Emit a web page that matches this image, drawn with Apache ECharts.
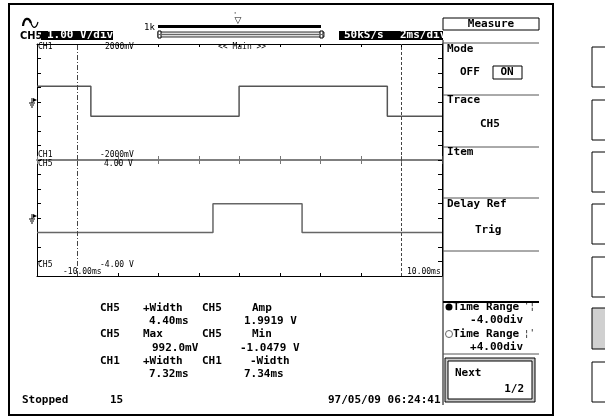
<!DOCTYPE html>
<html><head><meta charset="utf-8">
<script src="https://cdn.jsdelivr.net/npm/echarts@6/dist/echarts.min.js"></script>
<style>html,body{margin:0;padding:0;background:#fff}#c{width:605px;height:420px}</style>
</head><body><div id="c"></div>
<script>
// ---- data ----
const timeTicks = [-10, -8, -6, -4, -2, 0, 2, 4, 6, 8, 10];
const ch1Times = [-10, -7.34, -0.02, 7.30, 10];
const ch1Values = [540, -490, 540, -490, -490];      // mV
const ch5Times = [-10, -1.31, 3.09, 10];
const ch5Values = [-1.0, 0.99, -1.0, -1.0];           // V
const cursorTimes = [-8, 8];
const ch1Range = [-2000, 2000, 500];
const ch5Range = [-4, 4, 1];
const measRows = [
  ['CH5', '+Width', 'CH5', 'Amp'], ['', '4.40ms', '', '1.9919 V'],
  ['CH5', 'Max', 'CH5', 'Min'], ['', '992.0mV', '', '-1.0479 V'],
  ['CH1', '+Width', 'CH1', '-Width'], ['', '7.32ms', '', '7.34ms']
];

const chart = echarts.init(document.getElementById('c'), null, {renderer: 'canvas'});
const F = 'bold 11px "DejaVu Sans Mono", monospace';
const FS = '8px "DejaVu Sans Mono", monospace';
const pairs = (t, v) => t.map((x, i) => [x, v[i]]);

function xAx(gi, pos, color, len, w) {
  return {type: 'value', gridIndex: gi, position: pos, min: -10, max: 10, interval: 2,
    axisLine: {show: true, onZero: false, lineStyle: {color: color, width: w}},
    axisTick: {show: true, inside: true, length: len, lineStyle: {color: color, width: 1}},
    axisLabel: {show: false}, splitLine: {show: false}};
}
function yAx(gi, pos, r) {
  return {type: 'value', gridIndex: gi, position: pos, min: r[0], max: r[1], interval: r[2],
    axisLine: {show: true, onZero: false, lineStyle: {color: '#000', width: 1}},
    axisTick: {show: true, inside: true, length: 4, lineStyle: {color: '#000'}},
    axisLabel: {show: false}, splitLine: {show: false}};
}
const cursorMark = {
  silent: true, symbol: 'none', label: {show: false},
  data: [
    {xAxis: cursorTimes[0], lineStyle: {type: [5, 2, 1, 2], color: '#444', width: 1}},
    {xAxis: cursorTimes[1], lineStyle: {type: [3, 2], color: '#444', width: 1}}
  ]
};

const g = [];
function T(x, y, text, o) {
  o = o || {};
  g.push({type: 'text', silent: true, z: 10, style: {x: x, y: y, text: text, font: o.font || F,
    fill: o.fill || '#000', textAlign: o.align || 'left', textVerticalAlign: 'middle'}});
}
function L(x1, y1, x2, y2, o) {
  o = o || {};
  g.push({type: 'line', silent: true, z: o.z || 5, shape: {x1: x1, y1: y1, x2: x2, y2: y2},
    style: {stroke: o.stroke || '#000', lineWidth: o.w || 1}});
}
function R(x, y, w, h, o) {
  o = o || {};
  g.push({type: 'rect', silent: true, z: o.z || 4, shape: {x: x, y: y, width: w, height: h},
    style: {fill: o.fill || 'none', stroke: o.stroke === undefined ? '#000' : o.stroke, lineWidth: o.w || 1}});
}
function B(x1, y1, cx1, cy1, cx2, cy2, x2, y2, w) {
  g.push({type: 'bezierCurve', silent: true, z: 10,
    shape: {x1: x1, y1: y1, cpx1: cx1, cpy1: cy1, cpx2: cx2, cpy2: cy2, x2: x2, y2: y2},
    style: {stroke: '#000', lineWidth: w, fill: 'none'}});
}

// outer frame
R(9, 4, 544, 411, {w: 2});
// header
B(23, 26, 24, 17, 29, 17, 31, 23, 2.2);
B(31, 23, 33, 29, 36, 29, 38, 22, 1.2);
T(20, 36, 'CH5', {font: 'bold 11px "Liberation Sans Narrow", "DejaVu Sans Condensed", sans-serif'});
R(41, 31, 72, 9, {fill: '#000', stroke: 'none'});
T(47, 35.5, '1.00 V/div', {fill: '#fff'});
T(144, 28, '1k', {font: '9px "DejaVu Sans Mono", monospace'});
R(158, 25, 163, 3, {fill: '#000', stroke: 'none'});
R(158, 32, 166, 5, {fill: '#ddd', stroke: '#333'});
L(158, 34.5, 324, 34.5, {stroke: '#666'});
R(158, 31, 3, 7, {fill: '#fff', stroke: '#000'});
R(320, 31, 3, 7, {fill: '#fff', stroke: '#000'});
T(238, 21, '▽', {font: '9px "DejaVu Sans", sans-serif', align: 'center'});
T(235, 15, '\'', {font: '7px "DejaVu Sans Mono", monospace', align: 'center'});
R(339, 31, 104, 9, {fill: '#000', stroke: 'none'});
T(344, 35.5, '50kS/s', {fill: '#fff'});
T(400, 35.5, '2ms/div', {fill: '#fff'});

// in-plot labels
T(38, 47, 'CH1', {font: FS});
T(105, 47, '2000mV', {font: FS});
T(218, 47, '<< Main >>', {font: FS});
T(38, 155, 'CH1', {font: FS});
T(100, 155, '-2000mV', {font: FS});
T(38, 164, 'CH5', {font: FS});
T(104, 164, '4.00 V', {font: FS});
T(38, 265, 'CH5', {font: FS});
T(100, 265, '-4.00 V', {font: FS});
T(63, 272, '-10.00ms', {font: FS});
T(407, 272, '10.00ms', {font: FS});

// ground markers
function ground(y) {
  L(32, y - 5, 32, y, {});
  L(29, y, 35, y, {});
  L(30, y + 2, 34, y + 2, {});
  L(31, y + 4, 33, y + 4, {});
  g.push({type: 'polygon', silent: true, z: 6, shape: {points: [[33, y - 5], [37, y - 3], [33, y - 1]]}, style: {fill: '#000'}});
}
ground(103);
ground(219);

// right menu
L(443, 40, 443, 405, {});
R(443, 18, 96, 12, {});
T(491, 24, 'Measure', {align: 'center'});
[43, 95, 147, 198, 251, 354].forEach(y => L(443, y, 539, y, {stroke: '#555'}));
L(443, 302, 539, 302, {stroke: '#000', w: 2});
T(447, 49, 'Mode');
T(460, 72, 'OFF');
R(493, 66, 29, 13, {});
T(507, 72, 'ON', {align: 'center'});
T(447, 100, 'Trace');
T(480, 124, 'CH5');
T(447, 152, 'Item');
T(447, 204, 'Delay Ref');
T(475, 230, 'Trig');
g.push({type: 'circle', silent: true, z: 6, shape: {cx: 449, cy: 307, r: 3.5}, style: {fill: '#000'}});
g.push({type: 'circle', silent: true, z: 6, shape: {cx: 449, cy: 334, r: 3.5}, style: {fill: '#fff', stroke: '#666'}});
T(453, 307, 'Time Range');
T(524, 307, "'¦", {font: '9px "DejaVu Sans Mono", monospace'});
T(523, 320, '-4.00div', {align: 'right'});
T(453, 334, 'Time Range');
T(524, 334, "¦'", {font: '9px "DejaVu Sans Mono", monospace'});
T(523, 347, '+4.00div', {align: 'right'});
R(445, 358, 90, 44, {fill: '#c8c8c8'});
R(448, 361, 84, 38, {fill: '#fff'});
T(455, 373, 'Next');
T(524, 389, '1/2', {align: 'right'});

// side buttons
[[47, 40], [100, 40], [152, 40], [204, 40], [257, 40], [308, 41, '#d0d0d0'], [362, 40]].forEach(b =>
  R(592, b[0], 30, b[1], {fill: b[2] || '#fff'}));

// measurements
const colX = [100, 143, 202, 250];
measRows.forEach((r, i) => {
  const y = 308 + i * 13.3;
  if (i % 2 === 0) {
    T(colX[0], y, r[0]); T(colX[1], y, r[1]); T(colX[2], y, r[2]);
    T(r[3] === 'Amp' || r[3] === 'Min' ? 252 : 250, y, r[3]);
  } else {
    T(i === 3 ? 152 : 149, y, r[1]);
    T(i === 3 ? 240 : 244, y, r[3]);
  }
});
T(22, 400, 'Stopped');
T(110, 400, '15');
T(328, 400, '97/05/09 06:24:41');

chart.setOption({
  backgroundColor: '#fff',
  animation: false,
  grid: [
    {left: 37, top: 44, width: 405, height: 116},
    {left: 37, top: 160, width: 405, height: 116}
  ],
  xAxis: [
    xAx(0, 'top', '#000', 3, 1),
    xAx(0, 'bottom', '#777', 4, 1.5),
    xAx(1, 'top', '#777', 4, 1.5),
    xAx(1, 'bottom', '#000', 3, 1)
  ],
  yAxis: [
    yAx(0, 'left', ch1Range), yAx(0, 'right', ch1Range),
    yAx(1, 'left', ch5Range), yAx(1, 'right', ch5Range)
  ],
  series: [
    {type: 'line', xAxisIndex: 0, yAxisIndex: 0, step: 'end', symbol: 'none', data: pairs(ch1Times, ch1Values),
      lineStyle: {color: '#555', width: 1.5}, markLine: cursorMark},
    {type: 'line', xAxisIndex: 2, yAxisIndex: 2, step: 'end', symbol: 'none', data: pairs(ch5Times, ch5Values),
      lineStyle: {color: '#666', width: 1.5}, markLine: cursorMark}
  ],
  graphic: g
});
</script></body></html>
